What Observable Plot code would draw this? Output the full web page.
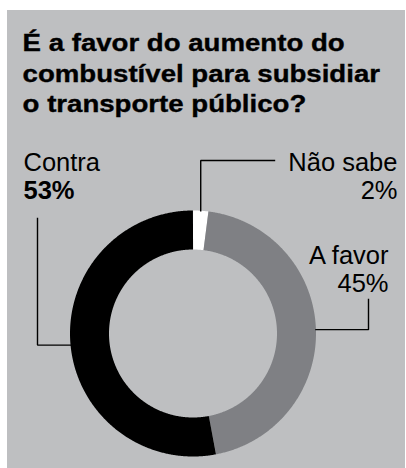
<!DOCTYPE html>
<html>
<head>
<meta charset="utf-8">
<script src="https://cdn.jsdelivr.net/npm/d3@7"></script>
<script src="https://cdn.jsdelivr.net/npm/@observablehq/plot@0.6"></script>
<style>
  html, body { margin: 0; padding: 0; background: #ffffff; }
  #panel {
    position: absolute; left: 7px; top: 10px; width: 398px; height: 458px;
    background: #bebfc1; overflow: hidden;
    font-family: "Liberation Sans", Arial, sans-serif;
  }
  #title {
    height: 120px; box-sizing: border-box;
    padding: 18.3px 0 0 13px;
    font-weight: bold; font-size: 23px; line-height: 30.3px;
    white-space: nowrap; color: #000;
    -webkit-text-stroke: 0.35px #000;
    transform: scaleX(1.2); transform-origin: 0 0;
  }
  #chart svg { display: block; }
</style>
</head>
<body>
<div id="panel">
  <div id="title">É a favor do aumento do<br>combustível para subsidiar<br>o transporte público?</div>
  <div id="chart"></div>
</div>
<script>
// ---- data (clockwise from 12 o'clock) ----
const categories = ["Não sabe", "A favor", "Contra"];
const values = [2, 45, 53];
const percentLabels = ["2%", "45%", "53%"];
const sliceColors = ["#ffffff", "#7f8084", "#000000"];

// ---- layout (SVG pixel space) ----
const W = 398, H = 338;
const cx = 185.5, cy = 203, rOuter = 123, rInner = 84;
const labelLayout = {
  "Não sabe": {x: 390, y: 40, anchor: "end",   first: "v", endX: 267, endY: 30},
  "A favor":  {x: 381, y: 133, anchor: "end",  first: "h", endX: 361, endY: 169},
  "Contra":   {x: 16,  y: 40, anchor: "start", first: "h", endX: 30,  endY: 88}
};
const lineGap = 28;
const fontFamily = '"Liberation Sans", Arial, sans-serif';

// ---- geometry derived from data ----
const total = d3.sum(values);
const slices = [];
let acc = 0;
categories.forEach((name, i) => {
  const a0 = acc / total * 2 * Math.PI;
  acc += values[i];
  const a1 = acc / total * 2 * Math.PI;
  slices.push({name, value: values[i], label: percentLabels[i], a0, a1});
});
const rMid = (rOuter + rInner) / 2;
const polar = (r, a) => ({x: cx + r * Math.sin(a), y: cy - r * Math.cos(a)});

const arcPts = [];
for (const s of slices) {
  const n = Math.max(2, Math.ceil((s.a1 - s.a0) / (0.4 * Math.PI / 180)));
  for (let k = 0; k <= n; ++k) {
    const a = s.a0 + (s.a1 - s.a0) * k / n;
    arcPts.push({name: s.name, ...polar(rMid, a)});
  }
}

const leaderPts = [];
const labelRows = [];
const maxValue = d3.max(values);
for (const s of slices) {
  const L = labelLayout[s.name];
  const p = polar(rOuter, (s.a0 + s.a1) / 2);
  const corner = L.first === "v" ? {x: p.x, y: L.endY} : {x: L.endX, y: p.y};
  leaderPts.push({name: s.name, ...p}, {name: s.name, ...corner}, {name: s.name, x: L.endX, y: L.endY});
  labelRows.push({name: s.name, label: s.label, x: L.x, y: L.y, y2: L.y + lineGap,
                  anchor: L.anchor, bold: s.value === maxValue});
}

const textMarks = [];
for (const anchor of ["start", "end"]) {
  const rows = labelRows.filter(d => d.anchor === anchor);
  textMarks.push(Plot.text(rows, {x: "x", y: "y", text: "name", textAnchor: anchor, lineAnchor: "bottom",
    fontSize: 25.5, fill: "#000", fontFamily}));
  for (const bold of [false, true]) {
    const r2 = rows.filter(d => d.bold === bold);
    if (r2.length) textMarks.push(Plot.text(r2, {x: "x", y: "y2", text: "label", textAnchor: anchor,
      lineAnchor: "bottom", fontSize: 25.5, fontWeight: bold ? "bold" : "normal", fill: "#000", fontFamily}));
  }
}

const chart = Plot.plot({
  width: W, height: H,
  marginTop: 0, marginRight: 0, marginBottom: 0, marginLeft: 0,
  x: {type: "linear", domain: [0, W], range: [0, W], axis: null},
  y: {type: "linear", domain: [0, H], range: [0, H], axis: null},
  color: {type: "ordinal", domain: categories, range: sliceColors},
  style: {background: "transparent", fontFamily, overflow: "visible"},
  marks: [
    Plot.line(arcPts, {x: "x", y: "y", z: "name", stroke: "name", strokeWidth: rOuter - rInner,
      strokeLinecap: "butt", strokeLinejoin: "round", curve: "linear"}),
    Plot.line(leaderPts, {x: "x", y: "y", z: "name", stroke: "#000", strokeWidth: 1.4,
      strokeLinecap: "square", strokeLinejoin: "miter"}),
    ...textMarks
  ]
});
document.getElementById("chart").appendChild(chart);
</script>
</body>
</html>
